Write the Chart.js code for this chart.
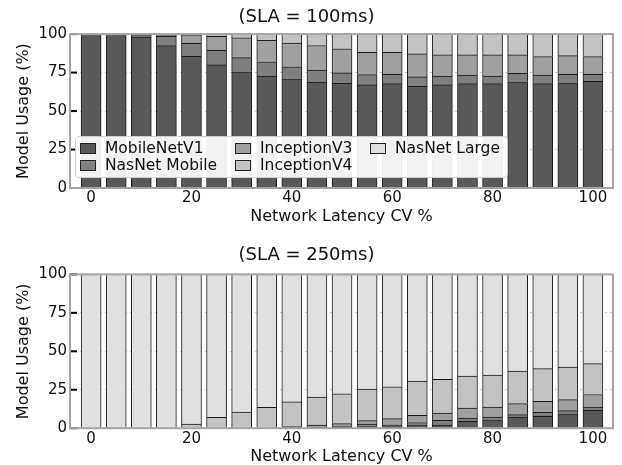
<!DOCTYPE html>
<html>
<head>
<meta charset="utf-8">
<script src="https://cdn.jsdelivr.net/npm/chart.js@4.4.1/dist/chart.umd.min.js"></script>
<style>
  html, body { margin: 0; padding: 0; background: #fff; overflow: hidden; }
  #wrap { position: relative; width: 622px; height: 465px; font-family: "DejaVu Sans", sans-serif; }
  .box { position: absolute; left: 0; width: 622px; }
  #legend { position: absolute; left: 75px; top: 136px; width: 433px; height: 42px;
            background: rgba(255,255,255,0.92); border: 1px solid #cfcfcf; border-radius: 4px; box-sizing: border-box; }
  .sw { position: absolute; width: 16px; height: 11px; border: 1px solid #222; box-sizing: border-box; }
  .lt { position: absolute; font-size: 15.5px; line-height: 18px; color: #111; white-space: nowrap; }
</style>
</head>
<body>
<div id="wrap">
  <div class="box" style="top:0;height:232px"><canvas id="top"></canvas></div>
  <div class="box" style="top:237px;height:229px"><canvas id="bottom"></canvas></div>
  <div id="legend"></div>
</div>
<script>
// data
let xValues = [0, 5, 10, 15, 20, 25, 30, 35, 40, 45, 50, 55, 60, 65, 70, 75, 80, 85, 90, 95, 100];
let xTicks = [0, 20, 40, 60, 80, 100];
let yTicks = [0, 25, 50, 75, 100];
let modelNames = ["MobileNetV1", "NasNet Mobile", "InceptionV3", "InceptionV4", "NasNet Large"];
let modelColors = ["#595959", "#7f7f7f", "#a0a0a0", "#c3c3c3", "#e0e0e0"];

// SLA = 100ms
let mobile100 = [100, 100, 98, 92.5, 85.5, 80, 75.5, 72.8, 71, 68.8, 68, 67, 67.8, 66, 67, 67.8, 67.8, 69, 67.8, 68.4, 69.3];
let nasMobile100 = [0, 0, 1, 6, 8.5, 9.5, 9.2, 9.2, 7.8, 7.8, 6.8, 6.7, 6.1, 6.2, 5.8, 5.5, 5, 5.5, 5.5, 5.5, 4.6];
let incV3_100 = [0, 0, 1, 1, 5.5, 9, 12.8, 14, 15.4, 16, 15.6, 14.5, 14.3, 14.9, 13.7, 13.2, 13.7, 12, 12.1, 12.1, 11.5];
let incV4_100 = [0, 0, 0, 0.5, 0.5, 1.5, 2.5, 4, 5.8, 7.4, 9.6, 11.8, 11.8, 12.9, 13.5, 13.5, 13.5, 13.5, 14.6, 14, 14.6];
let nasLarge100 = [0, 0, 0, 0, 0, 0, 0, 0, 0, 0, 0, 0, 0, 0, 0, 0, 0, 0, 0, 0, 0];

// SLA = 250ms
let mobile250 = [0, 0, 0, 0, 0, 0, 0, 0, 0, 0, 0.5, 1, 1, 2.2, 2, 4.4, 5.5, 7.2, 7.7, 9.4, 11.6];
let nasMobile250 = [0, 0, 0, 0, 0, 0, 0, 0, 0.5, 0.5, 0.5, 1.6, 1.2, 1.5, 3.1, 2.2, 1.7, 1.6, 2.6, 2, 2.2];
let incV3_250 = [0, 0, 0, 0, 0, 0, 0, 0, 0.5, 1.5, 2, 2.3, 4, 4.6, 4.7, 6.5, 6.6, 7.2, 7.2, 7.2, 8.1];
let incV4_250 = [0, 0, 0, 0, 2.6, 7, 10.5, 13.6, 16.1, 18.3, 19.4, 20.5, 20.7, 22.3, 22, 20.8, 20.8, 21.2, 21.2, 21.2, 20.1];
let nasLarge250 = [100, 100, 100, 100, 97.4, 93, 89.5, 86.4, 82.9, 79.7, 77.6, 74.6, 73.1, 69.4, 68.2, 66.1, 65.4, 62.8, 61.3, 60.2, 58];

Chart.defaults.font.family = "DejaVu Sans";
Chart.defaults.color = "#111";

// frame + inward y ticks like matplotlib
const framePlugin = {
    id: "frame",
    afterDatasetsDraw(chart) {
        const ctx = chart.ctx;
        const a = chart.chartArea;
        const y = chart.scales.y;
        ctx.save();
        ctx.strokeStyle = "#000";
        ctx.lineWidth = 2;
        yTicks.forEach(function (v) {
            let py = y.getPixelForValue(v);
            ctx.beginPath();
            ctx.moveTo(a.left, py);
            ctx.lineTo(a.left + 7, py);
            ctx.stroke();
        });
        ctx.strokeStyle = "#a3a3a3";
        ctx.lineWidth = 2;
        ctx.strokeRect(a.left, a.top, a.right - a.left, a.bottom - a.top);
        ctx.restore();
    }
};

function makeChart(id, title, series, titlePad, layoutPad) {
    let datasets = [];
    for (let i = 0; i < series.length; i++) {
        datasets.push({
            label: modelNames[i],
            data: xValues.map(function (x, j) { return { x: x, y: series[i][j] }; }),
            backgroundColor: modelColors[i],
            borderColor: "#1a1a1a",
            borderWidth: 1,
            barThickness: 20
        });
    }
    return new Chart(id, {
        type: "bar",
        data: { datasets: datasets },
        plugins: [framePlugin],
        options: {
            responsive: true,
            maintainAspectRatio: false,
            animation: false,
            layout: { padding: layoutPad },
            plugins: {
                legend: { display: false },
                tooltip: { enabled: false },
                title: {
                    display: true,
                    text: title,
                    color: "#111",
                    font: { size: 18, weight: "normal" },
                    padding: titlePad
                }
            },
            scales: {
                x: {
                    type: "linear",
                    stacked: true,
                    offset: false,
                    min: -4.2,
                    max: 104,
                    afterBuildTicks: function (scale) {
                        scale.ticks = xTicks.map(function (v) { return { value: v }; });
                    },
                    grid: { display: false, drawTicks: false, offset: false },
                    border: { display: false },
                    ticks: { font: { size: 15, lineHeight: 1 }, padding: 3, color: "#111", maxRotation: 0 },
                    title: {
                        display: true,
                        text: "Network Latency CV %",
                        color: "#111",
                        font: { size: 16, lineHeight: 1 },
                        padding: { top: 0, bottom: 0 }
                    }
                },
                y: {
                    stacked: true,
                    min: 0,
                    max: 100,
                    afterBuildTicks: function (scale) {
                        scale.ticks = yTicks.map(function (v) { return { value: v }; });
                    },
                    grid: { color: "#c8c8c8", drawTicks: false, lineWidth: 1 },
                    border: { display: false, dash: [2, 3] },
                    ticks: { font: { size: 15 }, padding: 3, color: "#111" },
                    title: {
                        display: true,
                        text: "Model Usage (%)",
                        color: "#111",
                        font: { size: 16 },
                        padding: { top: 14.4, bottom: 1.8 }
                    }
                }
            }
        }
    });
}

makeChart("top", "(SLA = 100ms)",
    [mobile100, nasMobile100, incV3_100, incV4_100, nasLarge100],
    { top: 7, bottom: 5.5 }, { top: 0, left: 0, right: 9, bottom: 7 });

makeChart("bottom", "(SLA = 250ms)",
    [mobile250, nasMobile250, incV3_250, incV4_250, nasLarge250],
    { top: 8, bottom: 7.8 }, { top: 0, left: 0, right: 9, bottom: 0.8 });

// legend inside the top plot
let legend = document.getElementById("legend");
let colX = [5, 160, 295];
let rowY = [12, 29];
for (let i = 0; i < modelNames.length; i++) {
    let col = Math.floor(i / 2);
    let row = i % 2;
    let sw = document.createElement("div");
    sw.className = "sw";
    sw.style.left = (colX[col] - 1) + "px";
    sw.style.top = (rowY[row] - 6.5) + "px";
    sw.style.background = modelColors[i];
    legend.appendChild(sw);
    let lt = document.createElement("div");
    lt.className = "lt";
    lt.style.left = (colX[col] + 24) + "px";
    lt.style.top = (rowY[row] - 10) + "px";
    lt.textContent = modelNames[i];
    legend.appendChild(lt);
}
</script>
</body>
</html>
